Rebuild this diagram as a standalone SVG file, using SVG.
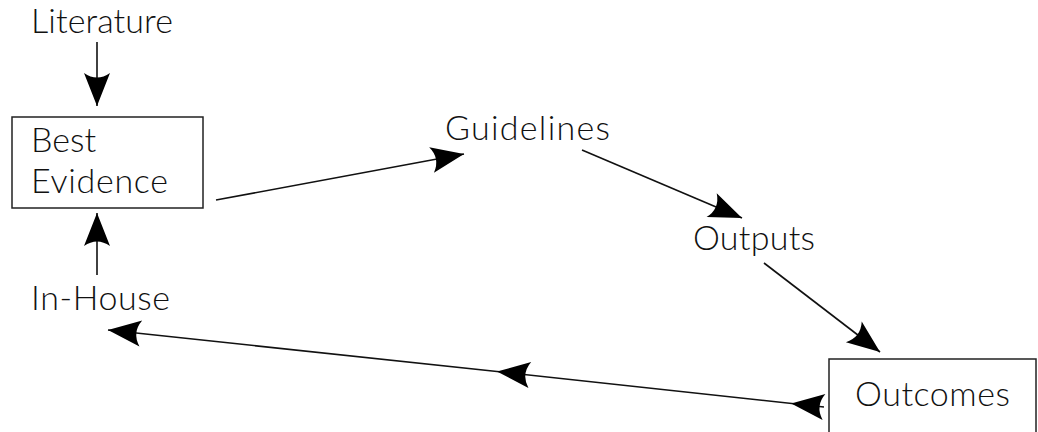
<svg xmlns="http://www.w3.org/2000/svg" width="1038" height="432" viewBox="0 0 1038 432">
<style>
text{font-family:"Lato","Liberation Sans",sans-serif;font-size:34px;font-weight:300;fill:#111;}
.box{fill:#fff;stroke:#222;stroke-width:1.5;}
.ln{fill:none;stroke:#111;stroke-width:1.6;}
</style>
<defs>
<marker id="ah" markerUnits="userSpaceOnUse" viewBox="0 -14 34 28" markerWidth="34" markerHeight="28" refX="33" refY="0" orient="auto" overflow="visible">
<path d="M0,-13 L33,0 L0,13 Q9,0 0,-13 Z" fill="#000"/>
</marker>
<marker id="ahs" markerUnits="userSpaceOnUse" viewBox="0 -14 34 28" markerWidth="34" markerHeight="28" refX="0" refY="0" orient="auto" overflow="visible">
<path d="M0,-13 L33,0 L0,13 Q9,0 0,-13 Z" fill="#000"/>
</marker>
</defs>
<g id="connectors">
<line class="ln" x1="97" y1="42" x2="97" y2="106" marker-end="url(#ah)"/>
<line class="ln" x1="97" y1="275" x2="97" y2="213" marker-end="url(#ah)"/>
<line class="ln" x1="216" y1="200" x2="464" y2="154" marker-end="url(#ah)"/>
<line class="ln" x1="582" y1="150" x2="742" y2="218" marker-end="url(#ah)"/>
<line class="ln" x1="764" y1="263" x2="880" y2="352" marker-end="url(#ah)"/>
<path class="ln" d="M824,407 L497,371.5 L108,330" marker-start="url(#ahs)" marker-mid="url(#ah)" marker-end="url(#ah)"/>
</g>
<g id="literature"><text x="31" y="33" textLength="142" lengthAdjust="spacing">Literature</text></g>
<g id="best-evidence">
<rect class="box" x="12" y="117" width="191" height="91"/>
<text x="31" y="152">Best</text>
<text x="31" y="193" textLength="137" lengthAdjust="spacing">Evidence</text>
</g>
<g id="in-house"><text x="31" y="310" textLength="139" lengthAdjust="spacing">In-House</text></g>
<g id="guidelines"><text x="445" y="140" textLength="165" lengthAdjust="spacing">Guidelines</text></g>
<g id="outputs"><text x="693" y="250" textLength="122" lengthAdjust="spacing">Outputs</text></g>
<g id="outcomes">
<rect class="box" x="829" y="359" width="207" height="90"/>
<text x="855" y="406" textLength="155" lengthAdjust="spacing">Outcomes</text>
</g>
</svg>
